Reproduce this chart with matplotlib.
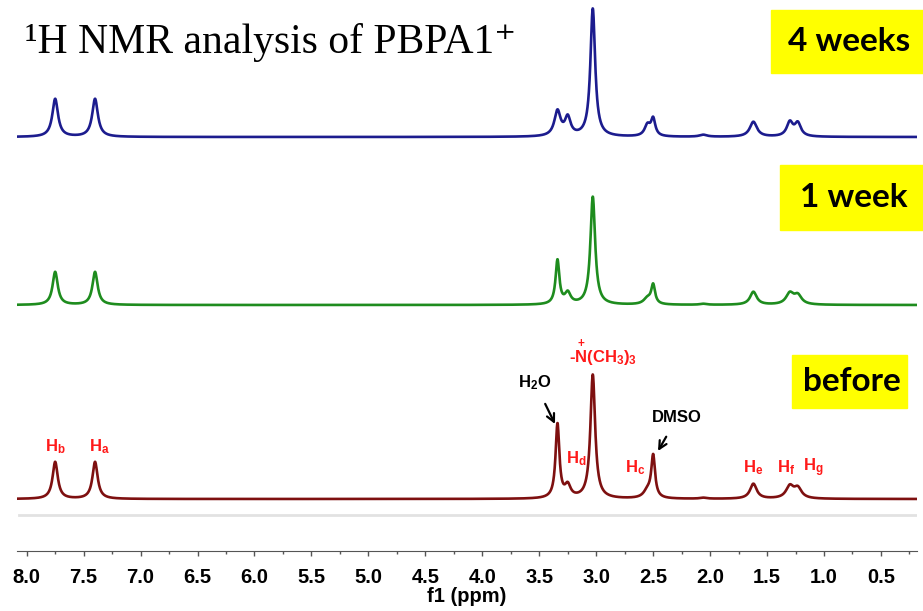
import numpy as np
import matplotlib
matplotlib.use("Agg")
import matplotlib.pyplot as plt

# peak positions (ppm) and heights
shifts = [7.75, 7.40, 3.34, 3.25, 3.03, 2.55, 2.50, 2.06, 1.62, 1.30, 1.23]
before = [37, 37, 74, 12, 124, 7, 42, 1, 15, 12, 10]
week1 = [33, 33, 44, 11, 108, 6, 19, 1, 13, 11, 9]
week4 = [38, 38, 25, 18, 128, 11, 17, 2, 15, 14, 13]
width_sharp = [0.055, 0.055, 0.04, 0.06, 0.05, 0.08, 0.04, 0.07, 0.07, 0.08, 0.08]
width_broad = [0.06, 0.06, 0.065, 0.06, 0.05, 0.06, 0.045, 0.08, 0.075, 0.065, 0.065]

ticks = [8.0, 7.5, 7.0, 6.5, 6.0, 5.5, 5.0, 4.5, 4.0, 3.5, 3.0, 2.5, 2.0, 1.5, 1.0, 0.5]
peak_labels = ["b", "a", "d", "c", "e", "f", "g"]

W, H = 923, 611
AX_Y = 551  # pixel row of the ppm axis


def spectrum(x, heights, widths):
    y = np.zeros_like(x)
    for s, h, w in zip(shifts, heights, widths):
        y += h / (1 + ((x - s) / (w / 2)) ** 2)
    return y


def ppm(px):
    return 8.0 - (px - 26.7) / 113.9


def up(py):
    return AX_Y - py


def fig_xy(px, py):
    return px / W, 1 - py / H


plt.rcParams["mathtext.fontset"] = "custom"
plt.rcParams["mathtext.rm"] = "Liberation Sans:bold"
plt.rcParams["mathtext.it"] = "Liberation Sans:bold"
plt.rcParams["mathtext.bf"] = "Liberation Sans:bold"

fig = plt.figure(figsize=(W / 100, H / 100), dpi=100)
ax = fig.add_axes([17 / W, (H - AX_Y) / H, 900 / W, AX_Y / H])
ax.set_xlim(ppm(17), ppm(917))
ax.set_ylim(0, AX_Y)

x = np.linspace(ppm(17), ppm(917), 4000)
ax.plot(x, 414 + spectrum(x, week4, width_broad), color="#1c1c8e", lw=1.9)
ax.plot(x, 246 + spectrum(x, week1, width_sharp), color="#1e8c1e", lw=1.9)
ax.plot(x, 52 + spectrum(x, before, width_sharp), color="#7e1010", lw=1.9)
ax.plot([ppm(19), ppm(917)], [36, 36], color="#e2e2e2", lw=2)

for sp in ["top", "left", "right"]:
    ax.spines[sp].set_visible(False)
ax.spines["bottom"].set_color("#555555")
ax.set_yticks([])
ax.set_xticks(ticks)
ax.set_xticks(np.arange(0.25, 8.1, 0.5), minor=True)
ax.set_xticklabels([f"{t:.1f}" for t in ticks], fontsize=14.5, fontweight="bold",
                   family="Liberation Sans")
ax.tick_params(axis="x", which="major", length=3.5, width=1, color="#555555", pad=9)
ax.tick_params(axis="x", which="minor", length=2.5, width=1, color="#555555")
ax.set_xlabel("f1 (ppm)", fontsize=14.5, fontweight="bold", family="Liberation Sans",
              labelpad=0)

# peak assignments
label_px = [(55, 447), (99, 447), (576, 459), (635, 468), (753, 468), (786, 468), (813, 468)]
for lab, (px, py) in zip(peak_labels, label_px):
    ax.text(ppm(px), up(py), r"$\mathbf{H_" + lab + "}$", color="#ff1a1a",
            fontsize=12, ha="center", va="center")

ax.text(ppm(603), up(353), r"-$\overset{+}{N}$(CH$_3$)$_3$", color="#ff1a1a", fontsize=12,
        ha="center", va="center", family="Liberation Sans", fontweight="bold")

ax.annotate(r"H$_2$O", xy=(ppm(555), up(424)), xytext=(ppm(535), up(383)),
            ha="center", va="center", fontsize=12, family="Liberation Sans",
            fontweight="bold",
            arrowprops=dict(arrowstyle="->", lw=1.6, color="black", shrinkA=7, shrinkB=0,
                            mutation_scale=14))
ax.annotate("DMSO", xy=(ppm(658), up(451)), xytext=(ppm(677), up(418)),
            ha="center", va="center", fontsize=12, family="Liberation Sans",
            fontweight="bold",
            arrowprops=dict(arrowstyle="->", lw=1.6, color="black", shrinkA=7, shrinkB=0,
                            mutation_scale=14))

# sample labels on yellow boxes
boxes = [("4 weeks", 771, 10, 923, 73), ("1 week", 780, 165, 923, 230),
         ("before", 792, 355, 907, 408)]
for txt, x0, y0, x1, y1 in boxes:
    fx0, fy1 = fig_xy(x0, y1)
    fx1, fy0 = fig_xy(x1, y0)
    fig.patches.append(plt.Rectangle((fx0, fy1), fx1 - fx0, fy0 - fy1,
                                     transform=fig.transFigure, color="#ffff00", zorder=0))
    cx, cy = fig_xy((x0 + x1) / 2 + 2, (y0 + y1) / 2)
    fig.text(cx, cy, txt, fontsize=24, fontweight="bold", family="Lato",
             ha="center", va="center")

tx, ty = fig_xy(25, 42)
fig.text(tx, ty, "¹H NMR analysis of PBPA1⁺", fontsize=30,
         family=["Liberation Serif", "DejaVu Serif"], ha="left", va="center")

fig.savefig("out.png", dpi=100)
